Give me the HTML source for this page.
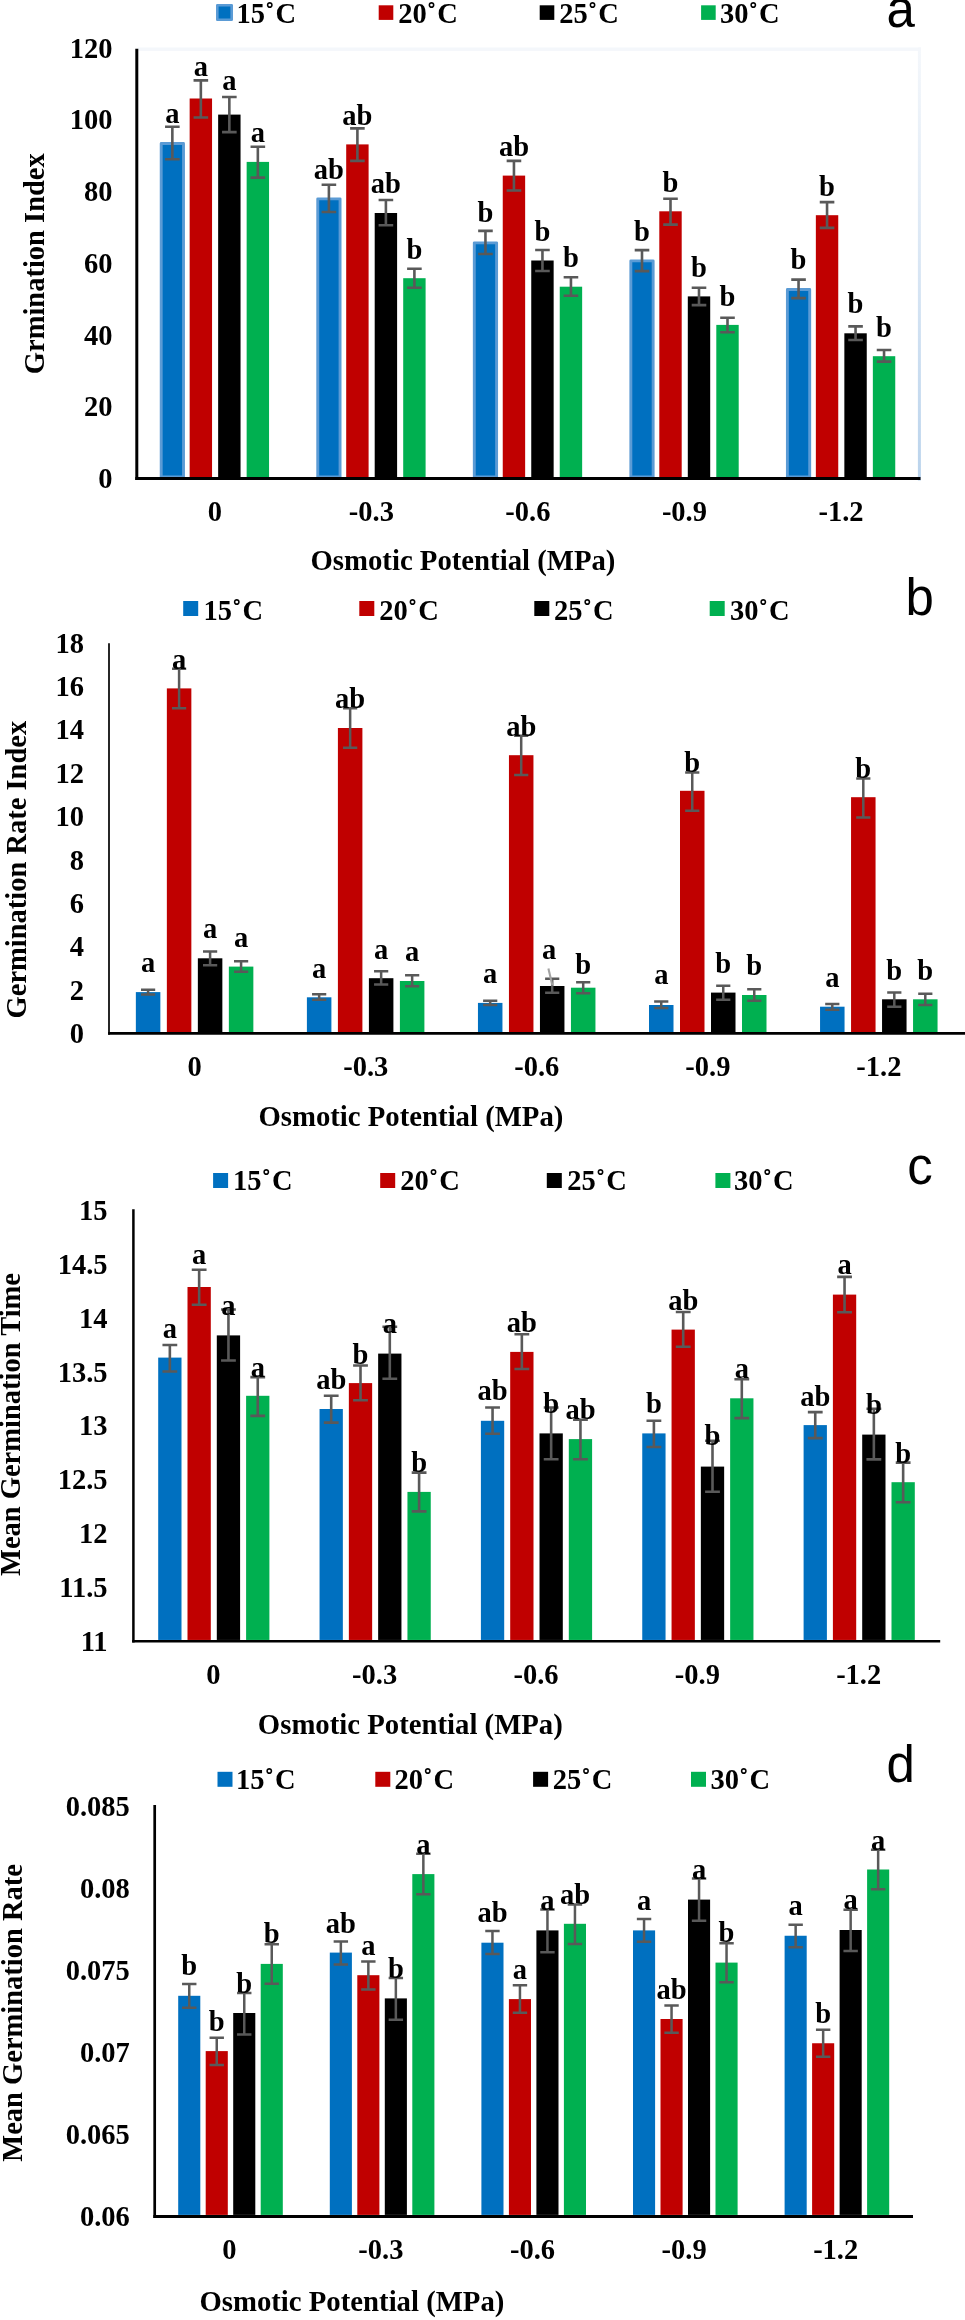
<!DOCTYPE html>
<html><head><meta charset="utf-8"><title>Germination charts</title>
<style>html,body{margin:0;padding:0;background:#fff;}svg{display:block;}svg{will-change:transform;}</style>
</head><body>
<svg width="965" height="2320" viewBox="0 0 965 2320">
<rect width="965" height="2320" fill="#fff"/>
<rect x="217.3" y="5.3" width="14.4" height="14.4" fill="#0070C0" stroke="#5B9BD5" stroke-width="2.6" stroke-linejoin="round"/>
<text x="236.6" y="23" text-anchor="start" font-family='"Liberation Serif", serif' font-weight="bold" font-size="28.5" >15˚<tspan dx="1">C</tspan></text>
<rect x="378.7" y="5.3" width="14.6" height="14.6" fill="#C00000"/>
<text x="398.3" y="23" text-anchor="start" font-family='"Liberation Serif", serif' font-weight="bold" font-size="28.5" >20˚<tspan dx="1">C</tspan></text>
<rect x="539.7" y="5.3" width="14.6" height="14.6" fill="#000000"/>
<text x="559.3" y="23" text-anchor="start" font-family='"Liberation Serif", serif' font-weight="bold" font-size="28.5" >25˚<tspan dx="1">C</tspan></text>
<rect x="701.1" y="5.3" width="14.6" height="14.6" fill="#00B050"/>
<text x="720.1" y="23" text-anchor="start" font-family='"Liberation Serif", serif' font-weight="bold" font-size="28.5" >30˚<tspan dx="1">C</tspan></text>
<text x="886.4" y="27.3" text-anchor="start" font-family='"Liberation Sans", sans-serif' font-weight="normal" font-size="51" >a</text>
<defs><linearGradient id="rb" x1="0" y1="0" x2="0" y2="1"><stop offset="0" stop-color="#F4F7FB"/><stop offset="0.45" stop-color="#DCE8F5"/><stop offset="1" stop-color="#BAD3EC"/></linearGradient></defs>
<rect x="138" y="47.5" width="782.9" height="3.4" fill="#F4F7FB"/>
<rect x="917.9" y="47.5" width="3" height="433" fill="url(#rb)"/>
<rect x="161.2" y="143.45" width="22.3" height="333.55" fill="#0070C0" stroke="#5B9BD5" stroke-width="2.9" stroke-linejoin="round"/>
<rect x="189.65" y="98.5" width="22.4" height="378.5" fill="#C00000"/>
<rect x="218.15" y="114.6" width="22.4" height="362.4" fill="#000000"/>
<rect x="246.65" y="161.9" width="22.4" height="315.1" fill="#00B050"/>
<path d="M172.35 126.8V159.3M165.05 126.8H179.65M165.05 159.3H179.65" stroke="#595959" stroke-width="2.6" fill="none"/>
<path d="M200.85 80.4V117.5M193.55 80.4H208.15M193.55 117.5H208.15" stroke="#595959" stroke-width="2.6" fill="none"/>
<path d="M229.35 97V132.1M222.05 97H236.65M222.05 132.1H236.65" stroke="#595959" stroke-width="2.6" fill="none"/>
<path d="M257.85 146.7V177.6M250.55 146.7H265.15M250.55 177.6H265.15" stroke="#595959" stroke-width="2.6" fill="none"/>
<text x="172.35" y="123.1" text-anchor="middle" font-family='"Liberation Serif", serif' font-weight="bold" font-size="28.5" >a</text>
<text x="200.85" y="76.3" text-anchor="middle" font-family='"Liberation Serif", serif' font-weight="bold" font-size="28.5" >a</text>
<text x="229.35" y="89.6" text-anchor="middle" font-family='"Liberation Serif", serif' font-weight="bold" font-size="28.5" >a</text>
<text x="257.85" y="142.2" text-anchor="middle" font-family='"Liberation Serif", serif' font-weight="bold" font-size="28.5" >a</text>
<rect x="317.75" y="198.85" width="22.3" height="278.15" fill="#0070C0" stroke="#5B9BD5" stroke-width="2.9" stroke-linejoin="round"/>
<rect x="346.2" y="144.4" width="22.4" height="332.6" fill="#C00000"/>
<rect x="374.7" y="213" width="22.4" height="264" fill="#000000"/>
<rect x="403.2" y="278.2" width="22.4" height="198.8" fill="#00B050"/>
<path d="M328.9 184.8V212M321.6 184.8H336.2M321.6 212H336.2" stroke="#595959" stroke-width="2.6" fill="none"/>
<path d="M357.4 128.4V160.9M350.1 128.4H364.7M350.1 160.9H364.7" stroke="#595959" stroke-width="2.6" fill="none"/>
<path d="M385.9 200V225.2M378.6 200H393.2M378.6 225.2H393.2" stroke="#595959" stroke-width="2.6" fill="none"/>
<path d="M414.4 268.7V287.8M407.1 268.7H421.7M407.1 287.8H421.7" stroke="#595959" stroke-width="2.6" fill="none"/>
<text x="328.9" y="178.9" text-anchor="middle" font-family='"Liberation Serif", serif' font-weight="bold" font-size="28.5" >ab</text>
<text x="357.4" y="124.6" text-anchor="middle" font-family='"Liberation Serif", serif' font-weight="bold" font-size="28.5" >ab</text>
<text x="385.9" y="192.8" text-anchor="middle" font-family='"Liberation Serif", serif' font-weight="bold" font-size="28.5" >ab</text>
<text x="414.4" y="258.7" text-anchor="middle" font-family='"Liberation Serif", serif' font-weight="bold" font-size="28.5" >b</text>
<rect x="474.3" y="242.85" width="22.3" height="234.15" fill="#0070C0" stroke="#5B9BD5" stroke-width="2.9" stroke-linejoin="round"/>
<rect x="502.75" y="175.6" width="22.4" height="301.4" fill="#C00000"/>
<rect x="531.25" y="260.5" width="22.4" height="216.5" fill="#000000"/>
<rect x="559.75" y="286.7" width="22.4" height="190.3" fill="#00B050"/>
<path d="M485.45 230.9V254M478.15 230.9H492.75M478.15 254H492.75" stroke="#595959" stroke-width="2.6" fill="none"/>
<path d="M513.95 160.9V190.5M506.65 160.9H521.25M506.65 190.5H521.25" stroke="#595959" stroke-width="2.6" fill="none"/>
<path d="M542.45 250V271M535.15 250H549.75M535.15 271H549.75" stroke="#595959" stroke-width="2.6" fill="none"/>
<path d="M570.95 277.3V295.7M563.65 277.3H578.25M563.65 295.7H578.25" stroke="#595959" stroke-width="2.6" fill="none"/>
<text x="485.45" y="222.2" text-anchor="middle" font-family='"Liberation Serif", serif' font-weight="bold" font-size="28.5" >b</text>
<text x="513.95" y="155.6" text-anchor="middle" font-family='"Liberation Serif", serif' font-weight="bold" font-size="28.5" >ab</text>
<text x="542.45" y="240.5" text-anchor="middle" font-family='"Liberation Serif", serif' font-weight="bold" font-size="28.5" >b</text>
<text x="570.95" y="267" text-anchor="middle" font-family='"Liberation Serif", serif' font-weight="bold" font-size="28.5" >b</text>
<rect x="630.85" y="260.85" width="22.3" height="216.15" fill="#0070C0" stroke="#5B9BD5" stroke-width="2.9" stroke-linejoin="round"/>
<rect x="659.3" y="211.3" width="22.4" height="265.7" fill="#C00000"/>
<rect x="687.8" y="296.4" width="22.4" height="180.6" fill="#000000"/>
<rect x="716.3" y="324.9" width="22.4" height="152.1" fill="#00B050"/>
<path d="M642 250.1V271.1M634.7 250.1H649.3M634.7 271.1H649.3" stroke="#595959" stroke-width="2.6" fill="none"/>
<path d="M670.5 198.7V224.6M663.2 198.7H677.8M663.2 224.6H677.8" stroke="#595959" stroke-width="2.6" fill="none"/>
<path d="M699 287.7V305.1M691.7 287.7H706.3M691.7 305.1H706.3" stroke="#595959" stroke-width="2.6" fill="none"/>
<path d="M727.5 317.7V332.3M720.2 317.7H734.8M720.2 332.3H734.8" stroke="#595959" stroke-width="2.6" fill="none"/>
<text x="642" y="241.1" text-anchor="middle" font-family='"Liberation Serif", serif' font-weight="bold" font-size="28.5" >b</text>
<text x="670.5" y="191.8" text-anchor="middle" font-family='"Liberation Serif", serif' font-weight="bold" font-size="28.5" >b</text>
<text x="699" y="276.7" text-anchor="middle" font-family='"Liberation Serif", serif' font-weight="bold" font-size="28.5" >b</text>
<text x="727.5" y="306.1" text-anchor="middle" font-family='"Liberation Serif", serif' font-weight="bold" font-size="28.5" >b</text>
<rect x="787.4" y="289.45" width="22.3" height="187.55" fill="#0070C0" stroke="#5B9BD5" stroke-width="2.9" stroke-linejoin="round"/>
<rect x="815.85" y="215.2" width="22.4" height="261.8" fill="#C00000"/>
<rect x="844.35" y="333.3" width="22.4" height="143.7" fill="#000000"/>
<rect x="872.85" y="356.2" width="22.4" height="120.8" fill="#00B050"/>
<path d="M798.55 279.6V298.1M791.25 279.6H805.85M791.25 298.1H805.85" stroke="#595959" stroke-width="2.6" fill="none"/>
<path d="M827.05 202.1V227.9M819.75 202.1H834.35M819.75 227.9H834.35" stroke="#595959" stroke-width="2.6" fill="none"/>
<path d="M855.55 326.4V340M848.25 326.4H862.85M848.25 340H862.85" stroke="#595959" stroke-width="2.6" fill="none"/>
<path d="M884.05 350V361.6M876.75 350H891.35M876.75 361.6H891.35" stroke="#595959" stroke-width="2.6" fill="none"/>
<text x="798.55" y="269.3" text-anchor="middle" font-family='"Liberation Serif", serif' font-weight="bold" font-size="28.5" >b</text>
<text x="827.05" y="195.5" text-anchor="middle" font-family='"Liberation Serif", serif' font-weight="bold" font-size="28.5" >b</text>
<text x="855.55" y="313.2" text-anchor="middle" font-family='"Liberation Serif", serif' font-weight="bold" font-size="28.5" >b</text>
<text x="884.05" y="336.5" text-anchor="middle" font-family='"Liberation Serif", serif' font-weight="bold" font-size="28.5" >b</text>
<line x1="136.8" y1="48.7" x2="136.8" y2="480" stroke="#000" stroke-width="3"/>
<line x1="135.3" y1="478.5" x2="920.5" y2="478.5" stroke="#000" stroke-width="3"/>
<text x="112.5" y="488" text-anchor="end" font-family='"Liberation Serif", serif' font-weight="bold" font-size="28.5" >0</text>
<text x="112.5" y="416.25" text-anchor="end" font-family='"Liberation Serif", serif' font-weight="bold" font-size="28.5" >20</text>
<text x="112.5" y="344.5" text-anchor="end" font-family='"Liberation Serif", serif' font-weight="bold" font-size="28.5" >40</text>
<text x="112.5" y="272.75" text-anchor="end" font-family='"Liberation Serif", serif' font-weight="bold" font-size="28.5" >60</text>
<text x="112.5" y="201" text-anchor="end" font-family='"Liberation Serif", serif' font-weight="bold" font-size="28.5" >80</text>
<text x="112.5" y="129.25" text-anchor="end" font-family='"Liberation Serif", serif' font-weight="bold" font-size="28.5" >100</text>
<text x="112.5" y="57.5" text-anchor="end" font-family='"Liberation Serif", serif' font-weight="bold" font-size="28.5" >120</text>
<text x="214.8" y="521.3" text-anchor="middle" font-family='"Liberation Serif", serif' font-weight="bold" font-size="28.5" >0</text>
<text x="371.35" y="521.3" text-anchor="middle" font-family='"Liberation Serif", serif' font-weight="bold" font-size="28.5" >-0.3</text>
<text x="527.9" y="521.3" text-anchor="middle" font-family='"Liberation Serif", serif' font-weight="bold" font-size="28.5" >-0.6</text>
<text x="684.45" y="521.3" text-anchor="middle" font-family='"Liberation Serif", serif' font-weight="bold" font-size="28.5" >-0.9</text>
<text x="841" y="521.3" text-anchor="middle" font-family='"Liberation Serif", serif' font-weight="bold" font-size="28.5" >-1.2</text>
<text x="462.95" y="570" text-anchor="middle" font-family='"Liberation Serif", serif' font-weight="bold" font-size="28.75" >Osmotic Potential (MPa)</text>
<text transform="translate(44,263.7) rotate(-90)" x="0" y="0" text-anchor="middle" font-family='"Liberation Serif", serif' font-weight="bold" font-size="28.5">Grmination Index</text>
<rect x="183.2" y="601" width="15" height="15" fill="#0070C0"/>
<text x="203.4" y="619.5" text-anchor="start" font-family='"Liberation Serif", serif' font-weight="bold" font-size="28.5" >15˚<tspan dx="1">C</tspan></text>
<rect x="359.3" y="601" width="15" height="15" fill="#C00000"/>
<text x="379.2" y="619.5" text-anchor="start" font-family='"Liberation Serif", serif' font-weight="bold" font-size="28.5" >20˚<tspan dx="1">C</tspan></text>
<rect x="534.3" y="601" width="15" height="15" fill="#000000"/>
<text x="553.9" y="619.5" text-anchor="start" font-family='"Liberation Serif", serif' font-weight="bold" font-size="28.5" >25˚<tspan dx="1">C</tspan></text>
<rect x="709.7" y="601" width="15" height="15" fill="#00B050"/>
<text x="729.9" y="619.5" text-anchor="start" font-family='"Liberation Serif", serif' font-weight="bold" font-size="28.5" >30˚<tspan dx="1">C</tspan></text>
<text x="905.6" y="615.3" text-anchor="start" font-family='"Liberation Sans", sans-serif' font-weight="normal" font-size="51" >b</text>
<rect x="135.85" y="992.1" width="24.5" height="39.95" fill="#0070C0"/>
<rect x="166.85" y="688.4" width="24.5" height="343.65" fill="#C00000"/>
<rect x="197.85" y="958.3" width="24.5" height="73.75" fill="#000000"/>
<rect x="228.85" y="966.6" width="24.5" height="65.45" fill="#00B050"/>
<path d="M148.1 989.65V994.45M141 989.65H155.2M141 994.45H155.2" stroke="#595959" stroke-width="2.5" fill="none"/>
<path d="M179.1 668.65V708.25M172 668.65H186.2M172 708.25H186.2" stroke="#595959" stroke-width="2.5" fill="none"/>
<path d="M210.1 951.55V965.25M203 951.55H217.2M203 965.25H217.2" stroke="#595959" stroke-width="2.5" fill="none"/>
<path d="M241.1 961.15V971.85M234 961.15H248.2M234 971.85H248.2" stroke="#595959" stroke-width="2.5" fill="none"/>
<text x="148.1" y="972.3" text-anchor="middle" font-family='"Liberation Serif", serif' font-weight="bold" font-size="28.5" >a</text>
<text x="179.1" y="668.7" text-anchor="middle" font-family='"Liberation Serif", serif' font-weight="bold" font-size="28.5" >a</text>
<text x="210.1" y="938.4" text-anchor="middle" font-family='"Liberation Serif", serif' font-weight="bold" font-size="28.5" >a</text>
<text x="241.1" y="946.7" text-anchor="middle" font-family='"Liberation Serif", serif' font-weight="bold" font-size="28.5" >a</text>
<rect x="306.9" y="997.3" width="24.5" height="34.75" fill="#0070C0"/>
<rect x="337.9" y="728" width="24.5" height="304.05" fill="#C00000"/>
<rect x="368.9" y="978.2" width="24.5" height="53.85" fill="#000000"/>
<rect x="399.9" y="981" width="24.5" height="51.05" fill="#00B050"/>
<path d="M319.15 994.25V999.75M312.05 994.25H326.25M312.05 999.75H326.25" stroke="#595959" stroke-width="2.5" fill="none"/>
<path d="M350.15 708.15V747.75M343.05 708.15H357.25M343.05 747.75H357.25" stroke="#595959" stroke-width="2.5" fill="none"/>
<path d="M381.15 971.35V984.55M374.05 971.35H388.25M374.05 984.55H388.25" stroke="#595959" stroke-width="2.5" fill="none"/>
<path d="M412.15 975.25V986.35M405.05 975.25H419.25M405.05 986.35H419.25" stroke="#595959" stroke-width="2.5" fill="none"/>
<text x="319.15" y="977.9" text-anchor="middle" font-family='"Liberation Serif", serif' font-weight="bold" font-size="28.5" >a</text>
<text x="350.15" y="708.3" text-anchor="middle" font-family='"Liberation Serif", serif' font-weight="bold" font-size="28.5" >ab</text>
<text x="381.15" y="958.5" text-anchor="middle" font-family='"Liberation Serif", serif' font-weight="bold" font-size="28.5" >a</text>
<text x="412.15" y="961.3" text-anchor="middle" font-family='"Liberation Serif", serif' font-weight="bold" font-size="28.5" >a</text>
<rect x="477.95" y="1002.9" width="24.5" height="29.15" fill="#0070C0"/>
<rect x="508.95" y="755.2" width="24.5" height="276.85" fill="#C00000"/>
<rect x="539.95" y="986" width="24.5" height="46.05" fill="#000000"/>
<rect x="570.95" y="987.7" width="24.5" height="44.35" fill="#00B050"/>
<path d="M490.2 1000.65V1005.05M483.1 1000.65H497.3M483.1 1005.05H497.3" stroke="#595959" stroke-width="2.5" fill="none"/>
<path d="M521.2 735.65V774.95M514.1 735.65H528.3M514.1 774.95H528.3" stroke="#595959" stroke-width="2.5" fill="none"/>
<path d="M552.2 978.75V992.65M545.1 978.75H559.3M545.1 992.65H559.3" stroke="#595959" stroke-width="2.5" fill="none"/>
<path d="M583.2 982.35V993.35M576.1 982.35H590.3M576.1 993.35H590.3" stroke="#595959" stroke-width="2.5" fill="none"/>
<text x="490.2" y="983.2" text-anchor="middle" font-family='"Liberation Serif", serif' font-weight="bold" font-size="28.5" >a</text>
<text x="521.2" y="735.8" text-anchor="middle" font-family='"Liberation Serif", serif' font-weight="bold" font-size="28.5" >ab</text>
<text x="549.2" y="958.5" text-anchor="middle" font-family='"Liberation Serif", serif' font-weight="bold" font-size="28.5" >a</text>
<text x="583.2" y="973.9" text-anchor="middle" font-family='"Liberation Serif", serif' font-weight="bold" font-size="28.5" >b</text>
<rect x="649" y="1005" width="24.5" height="27.05" fill="#0070C0"/>
<rect x="680" y="790.8" width="24.5" height="241.25" fill="#C00000"/>
<rect x="711" y="992.6" width="24.5" height="39.45" fill="#000000"/>
<rect x="742" y="995" width="24.5" height="37.05" fill="#00B050"/>
<path d="M661.25 1001.55V1008.05M654.15 1001.55H668.35M654.15 1008.05H668.35" stroke="#595959" stroke-width="2.5" fill="none"/>
<path d="M692.25 772.55V810.65M685.15 772.55H699.35M685.15 810.65H699.35" stroke="#595959" stroke-width="2.5" fill="none"/>
<path d="M723.25 985.75V999.65M716.15 985.75H730.35M716.15 999.65H730.35" stroke="#595959" stroke-width="2.5" fill="none"/>
<path d="M754.25 989.15V1000.65M747.15 989.15H761.35M747.15 1000.65H761.35" stroke="#595959" stroke-width="2.5" fill="none"/>
<text x="661.25" y="984.2" text-anchor="middle" font-family='"Liberation Serif", serif' font-weight="bold" font-size="28.5" >a</text>
<text x="692.25" y="772" text-anchor="middle" font-family='"Liberation Serif", serif' font-weight="bold" font-size="28.5" >b</text>
<text x="723.25" y="973.1" text-anchor="middle" font-family='"Liberation Serif", serif' font-weight="bold" font-size="28.5" >b</text>
<text x="754.25" y="974.7" text-anchor="middle" font-family='"Liberation Serif", serif' font-weight="bold" font-size="28.5" >b</text>
<rect x="820.05" y="1006.7" width="24.5" height="25.35" fill="#0070C0"/>
<rect x="851.05" y="797.2" width="24.5" height="234.85" fill="#C00000"/>
<rect x="882.05" y="999.3" width="24.5" height="32.75" fill="#000000"/>
<rect x="913.05" y="999.3" width="24.5" height="32.75" fill="#00B050"/>
<path d="M832.3 1003.95V1009.65M825.2 1003.95H839.4M825.2 1009.65H839.4" stroke="#595959" stroke-width="2.5" fill="none"/>
<path d="M863.3 778.55V817.45M856.2 778.55H870.4M856.2 817.45H870.4" stroke="#595959" stroke-width="2.5" fill="none"/>
<path d="M894.3 992.55V1006.65M887.2 992.55H901.4M887.2 1006.65H901.4" stroke="#595959" stroke-width="2.5" fill="none"/>
<path d="M925.3 993.85V1005.05M918.2 993.85H932.4M918.2 1005.05H932.4" stroke="#595959" stroke-width="2.5" fill="none"/>
<text x="832.3" y="986.6" text-anchor="middle" font-family='"Liberation Serif", serif' font-weight="bold" font-size="28.5" >a</text>
<text x="863.3" y="777.7" text-anchor="middle" font-family='"Liberation Serif", serif' font-weight="bold" font-size="28.5" >b</text>
<text x="894.3" y="979.8" text-anchor="middle" font-family='"Liberation Serif", serif' font-weight="bold" font-size="28.5" >b</text>
<text x="925.3" y="979.8" text-anchor="middle" font-family='"Liberation Serif", serif' font-weight="bold" font-size="28.5" >b</text>
<line x1="109" y1="643.2" x2="109" y2="1034.75" stroke="#000" stroke-width="1.7"/>
<line x1="108.15" y1="1033.4" x2="966" y2="1033.4" stroke="#000" stroke-width="2.7"/>
<text x="84" y="1043.1" text-anchor="end" font-family='"Liberation Serif", serif' font-weight="bold" font-size="28.5" >0</text>
<text x="84" y="999.72" text-anchor="end" font-family='"Liberation Serif", serif' font-weight="bold" font-size="28.5" >2</text>
<text x="84" y="956.34" text-anchor="end" font-family='"Liberation Serif", serif' font-weight="bold" font-size="28.5" >4</text>
<text x="84" y="912.96" text-anchor="end" font-family='"Liberation Serif", serif' font-weight="bold" font-size="28.5" >6</text>
<text x="84" y="869.58" text-anchor="end" font-family='"Liberation Serif", serif' font-weight="bold" font-size="28.5" >8</text>
<text x="84" y="826.2" text-anchor="end" font-family='"Liberation Serif", serif' font-weight="bold" font-size="28.5" >10</text>
<text x="84" y="782.82" text-anchor="end" font-family='"Liberation Serif", serif' font-weight="bold" font-size="28.5" >12</text>
<text x="84" y="739.44" text-anchor="end" font-family='"Liberation Serif", serif' font-weight="bold" font-size="28.5" >14</text>
<text x="84" y="696.06" text-anchor="end" font-family='"Liberation Serif", serif' font-weight="bold" font-size="28.5" >16</text>
<text x="84" y="652.68" text-anchor="end" font-family='"Liberation Serif", serif' font-weight="bold" font-size="28.5" >18</text>
<text x="194.7" y="1076.4" text-anchor="middle" font-family='"Liberation Serif", serif' font-weight="bold" font-size="28.5" >0</text>
<text x="365.75" y="1076.4" text-anchor="middle" font-family='"Liberation Serif", serif' font-weight="bold" font-size="28.5" >-0.3</text>
<text x="536.8" y="1076.4" text-anchor="middle" font-family='"Liberation Serif", serif' font-weight="bold" font-size="28.5" >-0.6</text>
<text x="707.85" y="1076.4" text-anchor="middle" font-family='"Liberation Serif", serif' font-weight="bold" font-size="28.5" >-0.9</text>
<text x="878.9" y="1076.4" text-anchor="middle" font-family='"Liberation Serif", serif' font-weight="bold" font-size="28.5" >-1.2</text>
<text x="410.9" y="1125.5" text-anchor="middle" font-family='"Liberation Serif", serif' font-weight="bold" font-size="28.75" >Osmotic Potential (MPa)</text>
<text transform="translate(25.5,869.6) rotate(-90)" x="0" y="0" text-anchor="middle" font-family='"Liberation Serif", serif' font-weight="bold" font-size="28.5">Germination Rate Index</text>
<rect x="213.1" y="1173" width="15" height="15" fill="#0070C0"/>
<text x="233.1" y="1189.8" text-anchor="start" font-family='"Liberation Serif", serif' font-weight="bold" font-size="28.5" >15˚<tspan dx="1">C</tspan></text>
<rect x="380.2" y="1173" width="15" height="15" fill="#C00000"/>
<text x="400.2" y="1189.8" text-anchor="start" font-family='"Liberation Serif", serif' font-weight="bold" font-size="28.5" >20˚<tspan dx="1">C</tspan></text>
<rect x="546.8" y="1173" width="15" height="15" fill="#000000"/>
<text x="567.2" y="1189.8" text-anchor="start" font-family='"Liberation Serif", serif' font-weight="bold" font-size="28.5" >25˚<tspan dx="1">C</tspan></text>
<rect x="715.4" y="1173" width="15" height="15" fill="#00B050"/>
<text x="734" y="1189.8" text-anchor="start" font-family='"Liberation Serif", serif' font-weight="bold" font-size="28.5" >30˚<tspan dx="1">C</tspan></text>
<text x="907.3" y="1183.5" text-anchor="start" font-family='"Liberation Sans", sans-serif' font-weight="normal" font-size="51" >c</text>
<rect x="158.2" y="1357.6" width="23.3" height="282.35" fill="#0070C0"/>
<rect x="187.5" y="1287" width="23.3" height="352.95" fill="#C00000"/>
<rect x="216.8" y="1335.4" width="23.3" height="304.55" fill="#000000"/>
<rect x="246.1" y="1395.8" width="23.3" height="244.15" fill="#00B050"/>
<path d="M169.85 1345V1371.5M162.45 1345H177.25M162.45 1371.5H177.25" stroke="#595959" stroke-width="2.6" fill="none"/>
<path d="M199.15 1269.7V1304.8M191.75 1269.7H206.55M191.75 1304.8H206.55" stroke="#595959" stroke-width="2.6" fill="none"/>
<path d="M228.45 1309.5V1360.5M221.05 1309.5H235.85M221.05 1360.5H235.85" stroke="#595959" stroke-width="2.6" fill="none"/>
<path d="M257.75 1377.1V1415.9M250.35 1377.1H265.15M250.35 1415.9H265.15" stroke="#595959" stroke-width="2.6" fill="none"/>
<text x="169.85" y="1338.4" text-anchor="middle" font-family='"Liberation Serif", serif' font-weight="bold" font-size="28.5" >a</text>
<text x="199.15" y="1263.8" text-anchor="middle" font-family='"Liberation Serif", serif' font-weight="bold" font-size="28.5" >a</text>
<text x="228.45" y="1315.2" text-anchor="middle" font-family='"Liberation Serif", serif' font-weight="bold" font-size="28.5" >a</text>
<text x="257.75" y="1376.6" text-anchor="middle" font-family='"Liberation Serif", serif' font-weight="bold" font-size="28.5" >a</text>
<rect x="319.55" y="1409" width="23.3" height="230.95" fill="#0070C0"/>
<rect x="348.85" y="1383.1" width="23.3" height="256.85" fill="#C00000"/>
<rect x="378.15" y="1353.6" width="23.3" height="286.35" fill="#000000"/>
<rect x="407.45" y="1491.9" width="23.3" height="148.05" fill="#00B050"/>
<path d="M331.2 1395.7V1422.6M323.8 1395.7H338.6M323.8 1422.6H338.6" stroke="#595959" stroke-width="2.6" fill="none"/>
<path d="M360.5 1365.5V1400.3M353.1 1365.5H367.9M353.1 1400.3H367.9" stroke="#595959" stroke-width="2.6" fill="none"/>
<path d="M389.8 1326.7V1378.8M382.4 1326.7H397.2M382.4 1378.8H397.2" stroke="#595959" stroke-width="2.6" fill="none"/>
<path d="M419.1 1472.6V1511.4M411.7 1472.6H426.5M411.7 1511.4H426.5" stroke="#595959" stroke-width="2.6" fill="none"/>
<text x="331.2" y="1389.2" text-anchor="middle" font-family='"Liberation Serif", serif' font-weight="bold" font-size="28.5" >ab</text>
<text x="360.5" y="1364" text-anchor="middle" font-family='"Liberation Serif", serif' font-weight="bold" font-size="28.5" >b</text>
<text x="389.8" y="1332.7" text-anchor="middle" font-family='"Liberation Serif", serif' font-weight="bold" font-size="28.5" >a</text>
<text x="419.1" y="1472.1" text-anchor="middle" font-family='"Liberation Serif", serif' font-weight="bold" font-size="28.5" >b</text>
<rect x="480.9" y="1420.8" width="23.3" height="219.15" fill="#0070C0"/>
<rect x="510.2" y="1351.9" width="23.3" height="288.05" fill="#C00000"/>
<rect x="539.5" y="1433.4" width="23.3" height="206.55" fill="#000000"/>
<rect x="568.8" y="1439.1" width="23.3" height="200.85" fill="#00B050"/>
<path d="M492.55 1407.5V1433.7M485.15 1407.5H499.95M485.15 1433.7H499.95" stroke="#595959" stroke-width="2.6" fill="none"/>
<path d="M521.85 1334.2V1369M514.45 1334.2H529.25M514.45 1369H529.25" stroke="#595959" stroke-width="2.6" fill="none"/>
<path d="M551.15 1407.5V1459.2M543.75 1407.5H558.55M543.75 1459.2H558.55" stroke="#595959" stroke-width="2.6" fill="none"/>
<path d="M580.45 1419.8V1459.2M573.05 1419.8H587.85M573.05 1459.2H587.85" stroke="#595959" stroke-width="2.6" fill="none"/>
<text x="492.55" y="1400" text-anchor="middle" font-family='"Liberation Serif", serif' font-weight="bold" font-size="28.5" >ab</text>
<text x="521.85" y="1332" text-anchor="middle" font-family='"Liberation Serif", serif' font-weight="bold" font-size="28.5" >ab</text>
<text x="551.15" y="1413.2" text-anchor="middle" font-family='"Liberation Serif", serif' font-weight="bold" font-size="28.5" >b</text>
<text x="580.45" y="1419.2" text-anchor="middle" font-family='"Liberation Serif", serif' font-weight="bold" font-size="28.5" >ab</text>
<rect x="642.25" y="1433.4" width="23.3" height="206.55" fill="#0070C0"/>
<rect x="671.55" y="1329.6" width="23.3" height="310.35" fill="#C00000"/>
<rect x="700.85" y="1466.6" width="23.3" height="173.35" fill="#000000"/>
<rect x="730.15" y="1398.3" width="23.3" height="241.65" fill="#00B050"/>
<path d="M653.9 1420.8V1447M646.5 1420.8H661.3M646.5 1447H661.3" stroke="#595959" stroke-width="2.6" fill="none"/>
<path d="M683.2 1312V1346.8M675.8 1312H690.6M675.8 1346.8H690.6" stroke="#595959" stroke-width="2.6" fill="none"/>
<path d="M712.5 1440.7V1491.7M705.1 1440.7H719.9M705.1 1491.7H719.9" stroke="#595959" stroke-width="2.6" fill="none"/>
<path d="M741.8 1379.3V1418.1M734.4 1379.3H749.2M734.4 1418.1H749.2" stroke="#595959" stroke-width="2.6" fill="none"/>
<text x="653.9" y="1413.2" text-anchor="middle" font-family='"Liberation Serif", serif' font-weight="bold" font-size="28.5" >b</text>
<text x="683.2" y="1309.8" text-anchor="middle" font-family='"Liberation Serif", serif' font-weight="bold" font-size="28.5" >ab</text>
<text x="712.5" y="1444.7" text-anchor="middle" font-family='"Liberation Serif", serif' font-weight="bold" font-size="28.5" >b</text>
<text x="741.8" y="1378.4" text-anchor="middle" font-family='"Liberation Serif", serif' font-weight="bold" font-size="28.5" >a</text>
<rect x="803.6" y="1425.1" width="23.3" height="214.85" fill="#0070C0"/>
<rect x="832.9" y="1294.6" width="23.3" height="345.35" fill="#C00000"/>
<rect x="862.2" y="1434.6" width="23.3" height="205.35" fill="#000000"/>
<rect x="891.5" y="1482.2" width="23.3" height="157.75" fill="#00B050"/>
<path d="M815.25 1412.1V1438.1M807.85 1412.1H822.65M807.85 1438.1H822.65" stroke="#595959" stroke-width="2.6" fill="none"/>
<path d="M844.55 1276.9V1312.2M837.15 1276.9H851.95M837.15 1312.2H851.95" stroke="#595959" stroke-width="2.6" fill="none"/>
<path d="M873.85 1408.8V1459.4M866.45 1408.8H881.25M866.45 1459.4H881.25" stroke="#595959" stroke-width="2.6" fill="none"/>
<path d="M903.15 1462.6V1502.3M895.75 1462.6H910.55M895.75 1502.3H910.55" stroke="#595959" stroke-width="2.6" fill="none"/>
<text x="815.25" y="1405.6" text-anchor="middle" font-family='"Liberation Serif", serif' font-weight="bold" font-size="28.5" >ab</text>
<text x="844.55" y="1273.7" text-anchor="middle" font-family='"Liberation Serif", serif' font-weight="bold" font-size="28.5" >a</text>
<text x="873.85" y="1413.9" text-anchor="middle" font-family='"Liberation Serif", serif' font-weight="bold" font-size="28.5" >b</text>
<text x="903.15" y="1462.7" text-anchor="middle" font-family='"Liberation Serif", serif' font-weight="bold" font-size="28.5" >b</text>
<line x1="133.4" y1="1209.2" x2="133.4" y2="1642.45" stroke="#000" stroke-width="2.5"/>
<line x1="132.15" y1="1641.2" x2="940.2" y2="1641.2" stroke="#000" stroke-width="2.5"/>
<text x="107.6" y="1650.5" text-anchor="end" font-family='"Liberation Serif", serif' font-weight="bold" font-size="28.5" >11</text>
<text x="107.6" y="1596.7" text-anchor="end" font-family='"Liberation Serif", serif' font-weight="bold" font-size="28.5" >11.5</text>
<text x="107.6" y="1542.9" text-anchor="end" font-family='"Liberation Serif", serif' font-weight="bold" font-size="28.5" >12</text>
<text x="107.6" y="1489.1" text-anchor="end" font-family='"Liberation Serif", serif' font-weight="bold" font-size="28.5" >12.5</text>
<text x="107.6" y="1435.3" text-anchor="end" font-family='"Liberation Serif", serif' font-weight="bold" font-size="28.5" >13</text>
<text x="107.6" y="1381.5" text-anchor="end" font-family='"Liberation Serif", serif' font-weight="bold" font-size="28.5" >13.5</text>
<text x="107.6" y="1327.7" text-anchor="end" font-family='"Liberation Serif", serif' font-weight="bold" font-size="28.5" >14</text>
<text x="107.6" y="1273.9" text-anchor="end" font-family='"Liberation Serif", serif' font-weight="bold" font-size="28.5" >14.5</text>
<text x="107.6" y="1220.1" text-anchor="end" font-family='"Liberation Serif", serif' font-weight="bold" font-size="28.5" >15</text>
<text x="213.3" y="1684.4" text-anchor="middle" font-family='"Liberation Serif", serif' font-weight="bold" font-size="28.5" >0</text>
<text x="374.65" y="1684.4" text-anchor="middle" font-family='"Liberation Serif", serif' font-weight="bold" font-size="28.5" >-0.3</text>
<text x="536" y="1684.4" text-anchor="middle" font-family='"Liberation Serif", serif' font-weight="bold" font-size="28.5" >-0.6</text>
<text x="697.35" y="1684.4" text-anchor="middle" font-family='"Liberation Serif", serif' font-weight="bold" font-size="28.5" >-0.9</text>
<text x="858.7" y="1684.4" text-anchor="middle" font-family='"Liberation Serif", serif' font-weight="bold" font-size="28.5" >-1.2</text>
<text x="410.35" y="1733.8" text-anchor="middle" font-family='"Liberation Serif", serif' font-weight="bold" font-size="28.75" >Osmotic Potential (MPa)</text>
<text transform="translate(20.2,1424.5) rotate(-90)" x="0" y="0" text-anchor="middle" font-family='"Liberation Serif", serif' font-weight="bold" font-size="28.5">Mean Germination Time</text>
<rect x="217.5" y="1771.8" width="15" height="15" fill="#0070C0"/>
<text x="236.1" y="1789.3" text-anchor="start" font-family='"Liberation Serif", serif' font-weight="bold" font-size="28.5" >15˚<tspan dx="1">C</tspan></text>
<rect x="375.3" y="1771.8" width="15" height="15" fill="#C00000"/>
<text x="394.6" y="1789.3" text-anchor="start" font-family='"Liberation Serif", serif' font-weight="bold" font-size="28.5" >20˚<tspan dx="1">C</tspan></text>
<rect x="533.1" y="1771.8" width="15" height="15" fill="#000000"/>
<text x="552.7" y="1789.3" text-anchor="start" font-family='"Liberation Serif", serif' font-weight="bold" font-size="28.5" >25˚<tspan dx="1">C</tspan></text>
<rect x="691" y="1771.8" width="15" height="15" fill="#00B050"/>
<text x="710.4" y="1789.3" text-anchor="start" font-family='"Liberation Serif", serif' font-weight="bold" font-size="28.5" >30˚<tspan dx="1">C</tspan></text>
<text x="886.6" y="1782" text-anchor="start" font-family='"Liberation Sans", sans-serif' font-weight="normal" font-size="51" >d</text>
<rect x="178.2" y="1995.8" width="22.1" height="219.1" fill="#0070C0"/>
<rect x="205.7" y="2051.1" width="22.1" height="163.8" fill="#C00000"/>
<rect x="233.2" y="2013" width="22.1" height="201.9" fill="#000000"/>
<rect x="260.7" y="1963.9" width="22.1" height="251" fill="#00B050"/>
<path d="M189.25 1984.05V2007.65M182.05 1984.05H196.45M182.05 2007.65H196.45" stroke="#595959" stroke-width="2.5" fill="none"/>
<path d="M216.75 2037.75V2065.05M209.55 2037.75H223.95M209.55 2065.05H223.95" stroke="#595959" stroke-width="2.5" fill="none"/>
<path d="M244.25 1992.95V2034.55M237.05 1992.95H251.45M237.05 2034.55H251.45" stroke="#595959" stroke-width="2.5" fill="none"/>
<path d="M271.75 1944.25V1983.75M264.55 1944.25H278.95M264.55 1983.75H278.95" stroke="#595959" stroke-width="2.5" fill="none"/>
<text x="189.25" y="1974.9" text-anchor="middle" font-family='"Liberation Serif", serif' font-weight="bold" font-size="28.5" >b</text>
<text x="216.75" y="2031.3" text-anchor="middle" font-family='"Liberation Serif", serif' font-weight="bold" font-size="28.5" >b</text>
<text x="244.25" y="1993.1" text-anchor="middle" font-family='"Liberation Serif", serif' font-weight="bold" font-size="28.5" >b</text>
<text x="271.75" y="1943.4" text-anchor="middle" font-family='"Liberation Serif", serif' font-weight="bold" font-size="28.5" >b</text>
<rect x="329.8" y="1952.6" width="22.1" height="262.3" fill="#0070C0"/>
<rect x="357.3" y="1975.2" width="22.1" height="239.7" fill="#C00000"/>
<rect x="384.8" y="1998.4" width="22.1" height="216.5" fill="#000000"/>
<rect x="412.3" y="1874.1" width="22.1" height="340.8" fill="#00B050"/>
<path d="M340.85 1941.55V1964.55M333.65 1941.55H348.05M333.65 1964.55H348.05" stroke="#595959" stroke-width="2.5" fill="none"/>
<path d="M368.35 1961.45V1989.45M361.15 1961.45H375.55M361.15 1989.45H375.55" stroke="#595959" stroke-width="2.5" fill="none"/>
<path d="M395.85 1978.05V2019.65M388.65 1978.05H403.05M388.65 2019.65H403.05" stroke="#595959" stroke-width="2.5" fill="none"/>
<path d="M423.35 1853.75V1894.25M416.15 1853.75H430.55M416.15 1894.25H430.55" stroke="#595959" stroke-width="2.5" fill="none"/>
<text x="340.85" y="1933.4" text-anchor="middle" font-family='"Liberation Serif", serif' font-weight="bold" font-size="28.5" >ab</text>
<text x="368.35" y="1955" text-anchor="middle" font-family='"Liberation Serif", serif' font-weight="bold" font-size="28.5" >a</text>
<text x="395.85" y="1977.6" text-anchor="middle" font-family='"Liberation Serif", serif' font-weight="bold" font-size="28.5" >b</text>
<text x="423.35" y="1853.9" text-anchor="middle" font-family='"Liberation Serif", serif' font-weight="bold" font-size="28.5" >a</text>
<rect x="481.4" y="1942.7" width="22.1" height="272.2" fill="#0070C0"/>
<rect x="508.9" y="1999.1" width="22.1" height="215.8" fill="#C00000"/>
<rect x="536.4" y="1930.4" width="22.1" height="284.5" fill="#000000"/>
<rect x="563.9" y="1923.8" width="22.1" height="291.1" fill="#00B050"/>
<path d="M492.45 1930.95V1953.95M485.25 1930.95H499.65M485.25 1953.95H499.65" stroke="#595959" stroke-width="2.5" fill="none"/>
<path d="M519.95 1985.35V2012.65M512.75 1985.35H527.15M512.75 2012.65H527.15" stroke="#595959" stroke-width="2.5" fill="none"/>
<path d="M547.45 1909.45V1952.25M540.25 1909.45H554.65M540.25 1952.25H554.65" stroke="#595959" stroke-width="2.5" fill="none"/>
<path d="M574.95 1904.45V1944.05M567.75 1904.45H582.15M567.75 1944.05H582.15" stroke="#595959" stroke-width="2.5" fill="none"/>
<text x="492.45" y="1921.8" text-anchor="middle" font-family='"Liberation Serif", serif' font-weight="bold" font-size="28.5" >ab</text>
<text x="519.95" y="1979.2" text-anchor="middle" font-family='"Liberation Serif", serif' font-weight="bold" font-size="28.5" >a</text>
<text x="547.45" y="1909.6" text-anchor="middle" font-family='"Liberation Serif", serif' font-weight="bold" font-size="28.5" >a</text>
<text x="574.95" y="1903.6" text-anchor="middle" font-family='"Liberation Serif", serif' font-weight="bold" font-size="28.5" >ab</text>
<rect x="633" y="1930.4" width="22.1" height="284.5" fill="#0070C0"/>
<rect x="660.5" y="2019" width="22.1" height="195.9" fill="#C00000"/>
<rect x="688" y="1899.6" width="22.1" height="315.3" fill="#000000"/>
<rect x="715.5" y="1962.6" width="22.1" height="252.3" fill="#00B050"/>
<path d="M644.05 1919.05V1941.65M636.85 1919.05H651.25M636.85 1941.65H651.25" stroke="#595959" stroke-width="2.5" fill="none"/>
<path d="M671.55 2005.55V2032.85M664.35 2005.55H678.75M664.35 2032.85H678.75" stroke="#595959" stroke-width="2.5" fill="none"/>
<path d="M699.05 1878.55V1920.75M691.85 1878.55H706.25M691.85 1920.75H706.25" stroke="#595959" stroke-width="2.5" fill="none"/>
<path d="M726.55 1943.25V1982.15M719.35 1943.25H733.75M719.35 1982.15H733.75" stroke="#595959" stroke-width="2.5" fill="none"/>
<text x="644.05" y="1910.2" text-anchor="middle" font-family='"Liberation Serif", serif' font-weight="bold" font-size="28.5" >a</text>
<text x="671.55" y="1998.8" text-anchor="middle" font-family='"Liberation Serif", serif' font-weight="bold" font-size="28.5" >ab</text>
<text x="699.05" y="1878.7" text-anchor="middle" font-family='"Liberation Serif", serif' font-weight="bold" font-size="28.5" >a</text>
<text x="726.55" y="1941.7" text-anchor="middle" font-family='"Liberation Serif", serif' font-weight="bold" font-size="28.5" >b</text>
<rect x="784.6" y="1935.75" width="22.1" height="279.15" fill="#0070C0"/>
<rect x="812.1" y="2043.25" width="22.1" height="171.65" fill="#C00000"/>
<rect x="839.6" y="1930" width="22.1" height="284.9" fill="#000000"/>
<rect x="867.1" y="1869.5" width="22.1" height="345.4" fill="#00B050"/>
<path d="M795.65 1924.8V1947.15M788.45 1924.8H802.85M788.45 1947.15H802.85" stroke="#595959" stroke-width="2.5" fill="none"/>
<path d="M823.15 2029.8V2056.65M815.95 2029.8H830.35M815.95 2056.65H830.35" stroke="#595959" stroke-width="2.5" fill="none"/>
<path d="M850.65 1909.8V1950.9M843.45 1909.8H857.85M843.45 1950.9H857.85" stroke="#595959" stroke-width="2.5" fill="none"/>
<path d="M878.15 1849.8V1889.15M870.95 1849.8H885.35M870.95 1889.15H885.35" stroke="#595959" stroke-width="2.5" fill="none"/>
<text x="795.65" y="1914.95" text-anchor="middle" font-family='"Liberation Serif", serif' font-weight="bold" font-size="28.5" >a</text>
<text x="823.15" y="2023.2" text-anchor="middle" font-family='"Liberation Serif", serif' font-weight="bold" font-size="28.5" >b</text>
<text x="850.65" y="1909.45" text-anchor="middle" font-family='"Liberation Serif", serif' font-weight="bold" font-size="28.5" >a</text>
<text x="878.15" y="1850.2" text-anchor="middle" font-family='"Liberation Serif", serif' font-weight="bold" font-size="28.5" >a</text>
<line x1="154.7" y1="1805.1" x2="154.7" y2="2217.9" stroke="#000" stroke-width="2.7"/>
<line x1="153.35" y1="2216.4" x2="913" y2="2216.4" stroke="#000" stroke-width="3"/>
<text x="129.8" y="2226.1" text-anchor="end" font-family='"Liberation Serif", serif' font-weight="bold" font-size="28.5" >0.06</text>
<text x="129.8" y="2144.04" text-anchor="end" font-family='"Liberation Serif", serif' font-weight="bold" font-size="28.5" >0.065</text>
<text x="129.8" y="2061.98" text-anchor="end" font-family='"Liberation Serif", serif' font-weight="bold" font-size="28.5" >0.07</text>
<text x="129.8" y="1979.92" text-anchor="end" font-family='"Liberation Serif", serif' font-weight="bold" font-size="28.5" >0.075</text>
<text x="129.8" y="1897.86" text-anchor="end" font-family='"Liberation Serif", serif' font-weight="bold" font-size="28.5" >0.08</text>
<text x="129.8" y="1815.8" text-anchor="end" font-family='"Liberation Serif", serif' font-weight="bold" font-size="28.5" >0.085</text>
<text x="229.3" y="2258.5" text-anchor="middle" font-family='"Liberation Serif", serif' font-weight="bold" font-size="28.5" >0</text>
<text x="380.9" y="2258.5" text-anchor="middle" font-family='"Liberation Serif", serif' font-weight="bold" font-size="28.5" >-0.3</text>
<text x="532.5" y="2258.5" text-anchor="middle" font-family='"Liberation Serif", serif' font-weight="bold" font-size="28.5" >-0.6</text>
<text x="684.1" y="2258.5" text-anchor="middle" font-family='"Liberation Serif", serif' font-weight="bold" font-size="28.5" >-0.9</text>
<text x="835.7" y="2258.5" text-anchor="middle" font-family='"Liberation Serif", serif' font-weight="bold" font-size="28.5" >-1.2</text>
<text x="351.9" y="2310.9" text-anchor="middle" font-family='"Liberation Serif", serif' font-weight="bold" font-size="28.75" >Osmotic Potential (MPa)</text>
<text transform="translate(22.3,2012.9) rotate(-90)" x="0" y="0" text-anchor="middle" font-family='"Liberation Serif", serif' font-weight="bold" font-size="28.5">Mean Germination Rate</text>
<line x1="548.4" y1="968.6" x2="552.4" y2="985.5" stroke="#A3A3A3" stroke-width="2.1"/>
</svg>
</body></html>
